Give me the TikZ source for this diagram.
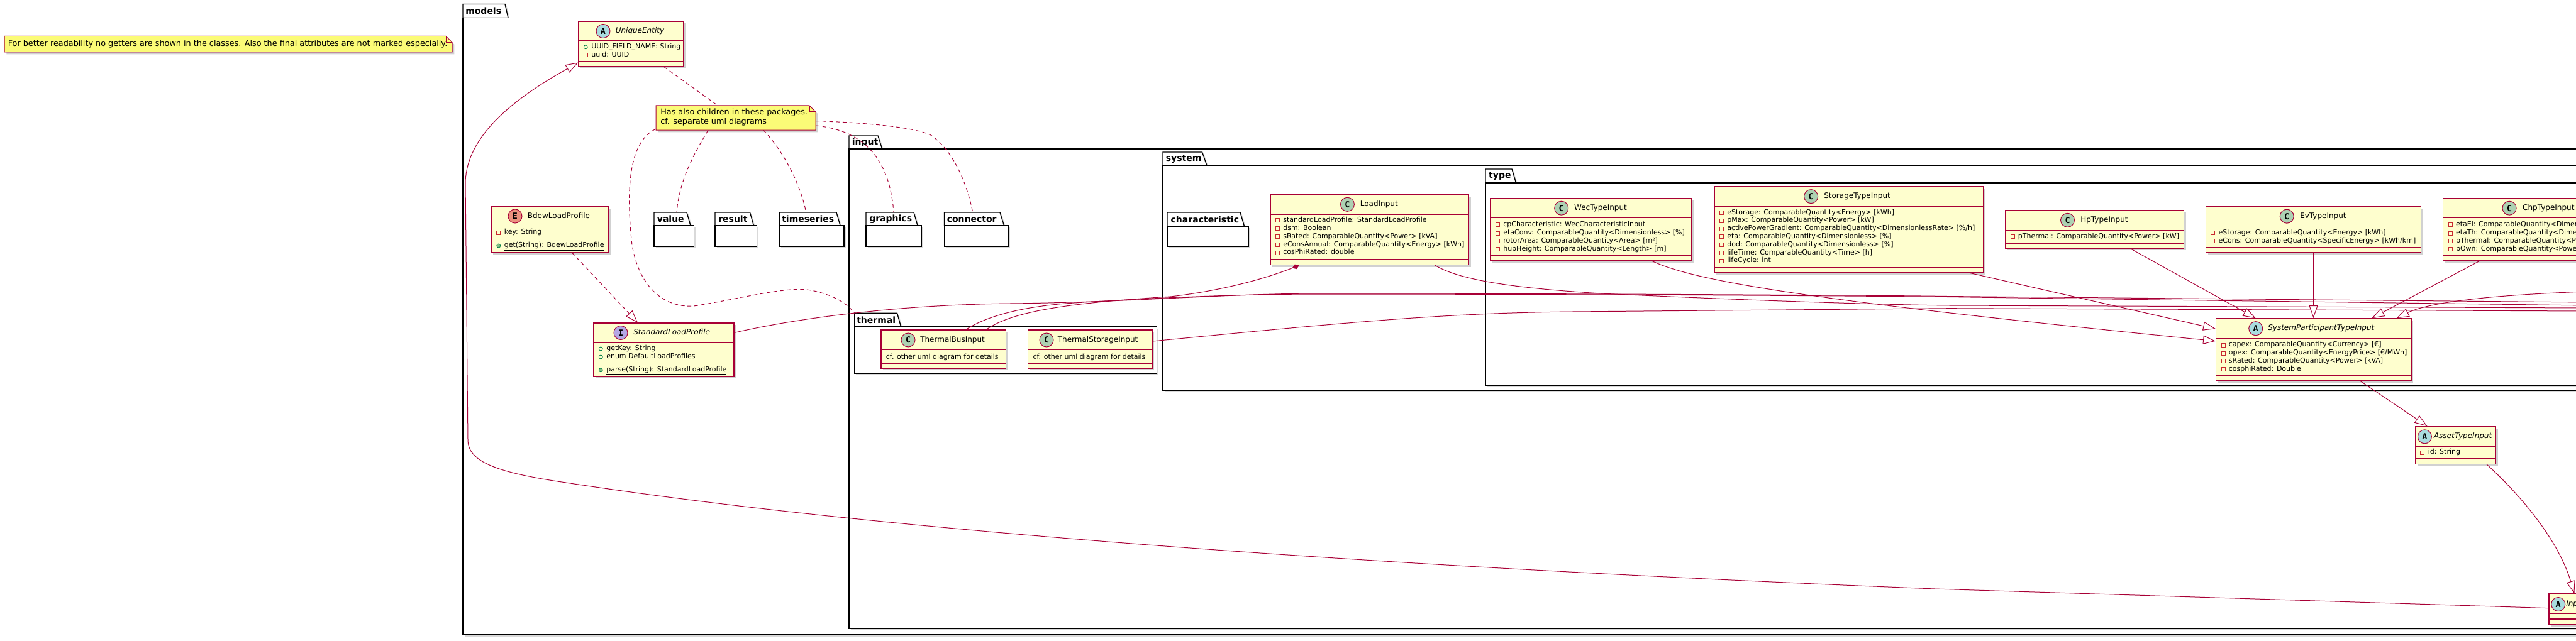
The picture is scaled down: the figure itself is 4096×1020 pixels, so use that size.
\documentclass[tikz,border=0pt]{standalone}
\usepackage{fontspec}
\setmainfont{DejaVu Sans}
\newfontfamily\iconfont{DejaVu Sans Mono}
\usetikzlibrary{arrows.meta, calc, fit, shadows}

\definecolor{umlred}{HTML}{A80036}
\definecolor{umlfill}{HTML}{FEFECE}
\definecolor{notefill}{HTML}{FBFB77}
\definecolor{iconc}{HTML}{ADD1B2}
\definecolor{icona}{HTML}{A9DCDF}
\definecolor{icone}{HTML}{EB937F}
\definecolor{iconi}{HTML}{B4A7E5}
\definecolor{privred}{HTML}{C82930}
\definecolor{pubgreen}{HTML}{038048}
\definecolor{pubfill}{HTML}{84BE84}

\tikzset{
  cls/.style={draw=umlred, fill=umlfill, line width=0.9pt, inner sep=0pt,
    drop shadow={shadow xshift=2.5pt, shadow yshift=-2.5pt, opacity=0.18, fill=black}},
  sep/.style={draw=umlred, line width=0.9pt},
  icon/.style={circle, draw=umlred, line width=0.75pt, minimum size=16.5pt, inner sep=0pt,
    font=\iconfont\bfseries\fontsize{10}{10}\selectfont},
  cname/.style={anchor=west, inner sep=0pt, text height=6.5pt, text depth=1.8pt, font=\fontsize{9}{11}\selectfont},
  aname/.style={cname, font=\itshape\fontsize{9}{11}\selectfont},
  attr/.style={anchor=west, inner sep=0pt, text height=6pt, text depth=1.8pt, font=\fontsize{8.25}{10}\selectfont},
  priv/.style={label={[draw=privred, line width=0.6pt, minimum size=4.5pt, inner sep=0pt,
    text height=0pt, text depth=0pt, label distance=4pt]left:{}}},
  pub/.style={label={[circle, draw=pubgreen, line width=0.6pt, minimum size=4.5pt, inner sep=0pt,
    text height=0pt, text depth=0pt, label distance=4pt]left:{}}},
  pubm/.style={label={[circle, draw=pubgreen, fill=pubfill, line width=0.6pt, minimum size=4.5pt, inner sep=0pt,
    text height=0pt, text depth=0pt, label distance=4pt]left:{}}},
  pkg/.style={draw=black, fill=white, line width=1pt,
    drop shadow={shadow xshift=2pt, shadow yshift=-2pt, opacity=0.15, fill=black}},
  pkglabel/.style={anchor=west, inner sep=0pt, font=\bfseries\fontsize{10.5}{12}\selectfont},
  notebox/.style={draw=umlred, fill=notefill, line width=0.75pt,
    drop shadow={shadow xshift=2.5pt, shadow yshift=-2.5pt, opacity=0.18, fill=black}},
  notetext/.style={anchor=west, inner sep=0pt, font=\fontsize{9.6}{12}\selectfont},
  area/.style={inner sep=0pt},
  link/.style={draw=umlred, line width=0.75pt},
  dashlink/.style={link, dash pattern=on 4.5pt off 3.5pt},
  inherit/.style={-{Triangle[length=15pt, width=10.5pt, fill=white]}},
  compose/.style={-{Diamond[length=9pt, width=6pt, fill=umlred]}}
}

\begin{document}
\begin{tikzpicture}[x=0.75pt, y=-0.75pt]
	\useasboundingbox (0,0) rectangle (4096,1020);
	\clip (0,0) rectangle (4096,1020);
	\fill[white] (0,0) rectangle (4096,1020);

	% packages
	\draw[pkg] (736,28.6) -- (736,6.5) -- (803,6.5) -- (808,28.6) -- cycle;
	\draw[pkg] (736,28.6) rectangle (4200,1010);
	\node[area, fit={(736,6.5) (803,28.6)}] (models) {};
	\node[pkglabel] (models-l) at (740,17.5) {models};

	\draw[pkg] (1040,359) -- (1040,338) -- (1092,338) -- (1098,359) -- cycle;
	\draw[pkg] (1040,359) rectangle (1103.4,392);
	\node[area, fit={(1040,338) (1092,359)}] (value) {};
	\node[pkglabel] (value-l) at (1044.6,348.5) {value};

	\draw[pkg] (1137,359) -- (1137,338) -- (1192.5,338) -- (1198.4,359) -- cycle;
	\draw[pkg] (1137,359) rectangle (1203.6,392);
	\node[area, fit={(1137,338) (1192.5,359)}] (result) {};
	\node[pkglabel] (result-l) at (1142,348.5) {result};

	\draw[pkg] (1239.4,359) -- (1239.4,338) -- (1330,338) -- (1336,359) -- cycle;
	\draw[pkg] (1239.4,359) rectangle (1342,392);
	\node[area, fit={(1239.4,338) (1330,359)}] (timeseries) {};
	\node[pkglabel] (timeseries-l) at (1243,348.5) {timeseries};

	\draw[pkg] (1350,237) -- (1350,216) -- (1396,216) -- (1402.7,237) -- cycle;
	\draw[pkg] (1350,237) rectangle (4200,1000.5);
	\node[area, fit={(1350,216) (1396,237)}] (input) {};
	\node[pkglabel] (input-l) at (1354.5,226.5) {input};

	\draw[pkg] (1377,359) -- (1377,338) -- (1453,338) -- (1459,359) -- cycle;
	\draw[pkg] (1377,359) rectangle (1465.8,392);
	\node[area, fit={(1377,338) (1453,359)}] (graphics) {};
	\node[pkglabel] (graphics-l) at (1382,348.5) {graphics};

	\draw[pkg] (1501.5,359) -- (1501.5,338) -- (1590,338) -- (1596.5,359) -- cycle;
	\draw[pkg] (1501.5,359) rectangle (1603,392);
	\node[area, fit={(1501.5,338) (1590,359)}] (connector) {};
	\node[pkglabel] (connector-l) at (1505.5,348.5) {connector};

	\draw[pkg] (1358.7,520) -- (1358.7,498.3) -- (1426.5,498.3) -- (1432.6,520) -- cycle;
	\draw[pkg] (1358.7,520) rectangle (1839.8,594);
	\node[area, fit={(1358.7,498.3) (1426.5,520)}] (thermal) {};
	\node[pkglabel] (thermal-l) at (1362,509) {thermal};

	\draw[pkg] (1849,263.5) -- (1849,242) -- (1911.5,242) -- (1919,263.5) -- cycle;
	\draw[pkg] (1849,263.5) rectangle (4200,621.3);
	\node[area, fit={(1849,242) (1911.5,263.5)}] (system) {};
	\node[pkglabel] (system-l) at (1853.5,252.7) {system};

	\draw[pkg] (1856,360) -- (1856,338) -- (1972,338) -- (1978.5,360) -- cycle;
	\draw[pkg] (1856,360) rectangle (1985,392);
	\node[area, fit={(1856,338) (1972,360)}] (characteristic) {};
	\node[pkglabel] (characteristic-l) at (1861.4,349) {characteristic};

	\draw[pkg] (2362,291) -- (2362,269) -- (2404,269) -- (2410.5,291) -- cycle;
	\draw[pkg] (2362,291) rectangle (4200,613.5);
	\node[area, fit={(2362,269) (2404,291)}] (type) {};
	\node[pkglabel] (type-l) at (2366.9,280) {type};

	% notes
	\draw[notebox] (7,57.5) -- (709,57.5) -- (719,67.5) -- (719,83) -- (7,83) -- cycle;
	\draw[umlred, line width=0.75pt] (709,57.5) -- (709,67.5) -- (719,67.5);
	\node[area, fit={(7,57.5) (719,83)}] (nt1) {};
	\node[notetext] (nt1-t) at (12.5,70.3) {For better readability no getters are shown in the classes. Also the final attributes are not marked especially.};

	\draw[notebox] (1043,168) -- (1287,168) -- (1297,178) -- (1297,207) -- (1043,207) -- cycle;
	\draw[umlred, line width=0.75pt] (1287,168) -- (1287,178) -- (1297,178);
	\node[area, fit={(1043,168) (1297,207)}] (nt2) {};
	\node[notetext] (nt2-t1) at (1050,179) {Has also children in these packages.};
	\node[notetext] (nt2-t2) at (1050,194) {cf. separate uml diagrams};

	% classes
	\node[cls, fit={(920,34) (1087,106)}] (ue) {};
	\draw[sep] (920,65) -- (1087,65);
	\draw[sep] (920,97.6) -- (1087,97.6);
	\node[icon, fill=icona] (ue-i) at (959,49.5) {A};
	\node[aname] (ue-n) at (978.5,49.5) {UniqueEntity};
	\node[attr, pub] (ue-a1) at (940,74.8) {\underline{UUID\_FIELD\_NAME: String}};
	\node[attr, priv] (ue-a2) at (940,87.8) {uuid: UUID};

	\node[cls, fit={(781,328.5) (968,401.4)}] (bdew) {};
	\draw[sep] (781,359.8) -- (968,359.8);
	\draw[sep] (781,380.6) -- (968,380.6);
	\node[icon, fill=icone] (bdew-i) at (819,344) {E};
	\node[cname] (bdew-n) at (838.6,344) {BdewLoadProfile};
	\node[attr, priv] (bdew-a1) at (801.5,370) {key: String};
	\node[attr, pubm] (bdew-m1) at (801.5,391) {\underline{get(String): BdewLoadProfile}};

	\node[cls, fit={(944,514) (1167,599)}] (slp) {};
	\draw[sep] (944,545) -- (1167,545);
	\draw[sep] (944,577.7) -- (1167,577.7);
	\node[icon, fill=iconi] (slp-i) at (987,529.5) {I};
	\node[aname] (slp-n) at (1007,529.5) {StandardLoadProfile};
	\node[attr, pub] (slp-a1) at (964,555) {getKey: String};
	\node[attr, pub] (slp-a2) at (964,568) {enum DefaultLoadProfiles};
	\node[attr, pubm] (slp-m1) at (964,588.8) {\underline{parse(String): StandardLoadProfile}};

	\node[cls, fit={(1401,525) (1599.5,586)}] (tbi) {};
	\draw[sep] (1401,556.7) -- (1599.5,556.7);
	\draw[sep] (1401,578.3) -- (1599.5,578.3);
	\node[icon, fill=iconc] (tbi-i) at (1444,541) {C};
	\node[cname] (tbi-n) at (1463,541) {ThermalBusInput};
	\node[attr] (tbi-a1) at (1408.6,568.3) {cf. other uml diagram for details};

	\node[cls, fit={(1634.7,525) (1832,586)}] (tsi) {};
	\draw[sep] (1634.7,556.7) -- (1832,556.7);
	\draw[sep] (1634.7,578.3) -- (1832,578.3);
	\node[icon, fill=iconc] (tsi-i) at (1664,541) {C};
	\node[cname] (tsi-n) at (1681.6,541) {ThermalStorageInput};
	\node[attr] (tsi-a1) at (1642.3,568.3) {cf. other uml diagram for details};

	\node[cls, fit={(2020,309.7) (2335.6,421.6)}] (load) {};
	\draw[sep] (2020,341) -- (2335.6,341);
	\draw[sep] (2020,412.5) -- (2335.6,412.5);
	\node[icon, fill=iconc] (load-i) at (2142.4,325.3) {C};
	\node[cname] (load-n) at (2162.6,325.3) {LoadInput};
	\node[attr, priv] (load-a1) at (2040,350.7) {standardLoadProfile: StandardLoadProfile};
	\node[attr, priv] (load-a2) at (2040,363.7) {dsm: Boolean};
	\node[attr, priv] (load-a3) at (2040,376.7) {sRated: ComparableQuantity<Power> [kVA]};
	\node[attr, priv] (load-a4) at (2040,389.7) {eConsAnnual: ComparableQuantity<Energy> [kWh]};
	\node[attr, priv] (load-a5) at (2040,402) {cosPhiRated: double};

	\node[cls, fit={(2370,315.5) (2690,414.4)}] (wec) {};
	\draw[sep] (2370,346.8) -- (2690,346.8);
	\draw[sep] (2370,406.6) -- (2690,406.6);
	\node[icon, fill=iconc] (wec-i) at (2482.7,331.2) {C};
	\node[cname] (wec-n) at (2502.8,331.2) {WecTypeInput};
	\node[attr, priv] (wec-a1) at (2390,357.8) {cpCharacteristic: WecCharacteristicInput};
	\node[attr, priv] (wec-a2) at (2390,370.9) {etaConv: ComparableQuantity<Dimensionless> [\%]};
	\node[attr, priv] (wec-a3) at (2390,383.2) {rotorArea: ComparableQuantity<Area> [m²]};
	\node[attr, priv] (wec-a4) at (2390,396.2) {hubHeight: ComparableQuantity<Length> [m]};

	\node[cls, fit={(2726,296.7) (3153.5,433.3)}] (stor) {};
	\draw[sep] (2726,328.6) -- (3153.5,328.6);
	\draw[sep] (2726,425.5) -- (3153.5,425.5);
	\node[icon, fill=iconc] (stor-i) at (2879.6,312.6) {C};
	\node[cname] (stor-n) at (2900,312.6) {StorageTypeInput};
	\node[attr, priv] (stor-a1) at (2746,338.3) {eStorage: ComparableQuantity<Energy> [kWh]};
	\node[attr, priv] (stor-a2) at (2746,351.1) {pMax: ComparableQuantity<Power> [kW]};
	\node[attr, priv] (stor-a3) at (2746,363.9) {activePowerGradient: ComparableQuantity<DimensionlessRate> [\%/h]};
	\node[attr, priv] (stor-a4) at (2746,376.7) {eta: ComparableQuantity<Dimensionless> [\%]};
	\node[attr, priv] (stor-a5) at (2746,389.5) {dod: ComparableQuantity<Dimensionless> [\%]};
	\node[attr, priv] (stor-a6) at (2746,402.3) {lifeTime: ComparableQuantity<Time> [h]};
	\node[attr, priv] (stor-a7) at (2746,415.1) {lifeCycle: int};

	\node[cls, fit={(3188.6,334.4) (3472.3,395)}] (hp) {};
	\draw[sep] (3188.6,366.3) -- (3472.3,366.3);
	\draw[sep] (3188.6,387) -- (3472.3,387);
	\node[icon, fill=iconc] (hp-i) at (3287.5,350.3) {C};
	\node[cname] (hp-n) at (3308,350.3) {HpTypeInput};
	\node[attr, priv] (hp-a1) at (3208.6,376.7) {pThermal: ComparableQuantity<Power> [kW]};

	\node[cls, fit={(3507.4,328.6) (3849.6,401.4)}] (ev) {};
	\draw[sep] (3507.4,359.8) -- (3849.6,359.8);
	\draw[sep] (3507.4,393.6) -- (3849.6,393.6);
	\node[icon, fill=iconc] (ev-i) at (3636.2,344.2) {C};
	\node[cname] (ev-n) at (3657,344.2) {EvTypeInput};
	\node[attr, priv] (ev-a1) at (3527.4,370.2) {eStorage: ComparableQuantity<Energy> [kWh]};
	\node[attr, priv] (ev-a2) at (3527.4,383.2) {eCons: ComparableQuantity<SpecificEnergy> [kWh/km]};

	\node[cls, fit={(3884.7,315.5) (4230,414.4)}] (chp) {};
	\draw[sep] (3884.7,346.8) -- (4230,346.8);
	\draw[sep] (3884.7,406.6) -- (4230,406.6);
	\node[icon, fill=iconc] (chp-i) at (3990,331.2) {C};
	\node[cname] (chp-n) at (4010.9,331.2) {ChpTypeInput};
	\node[attr, priv] (chp-a1) at (3904.7,357.8) {etaEl: ComparableQuantity<Dimensionless> [\%]};
	\node[attr, priv] (chp-a2) at (3904.7,370.9) {etaTh: ComparableQuantity<Dimensionless> [\%]};
	\node[attr, priv] (chp-a3) at (3904.7,383.2) {pThermal: ComparableQuantity<Power> [kW]};
	\node[attr, priv] (chp-a4) at (3904.7,396.2) {pOwn: ComparableQuantity<Power> [kW]};

	\node[cls, fit={(3523.6,506.8) (3834,605.7)}] (spti) {};
	\draw[sep] (3523.6,538.7) -- (3834,538.7);
	\draw[sep] (3523.6,597.3) -- (3834,597.3);
	\node[icon, fill=icona] (spti-i) at (3586.7,522.7) {A};
	\node[aname] (spti-n) at (3606,522.7) {SystemParticipantTypeInput};
	\node[attr, priv] (spti-a1) at (3543.6,549) {capex: ComparableQuantity<Currency> [€]};
	\node[attr, priv] (spti-a2) at (3543.6,562) {opex: ComparableQuantity<EnergyPrice> [€/MWh]};
	\node[attr, priv] (spti-a3) at (3543.6,574.5) {sRated: ComparableQuantity<Power> [kVA]};
	\node[attr, priv] (spti-a4) at (3543.6,587.5) {cosphiRated: Double};

	\node[cls, fit={(3840.5,678.6) (3968.6,738.4)}] (asset) {};
	\draw[sep] (3840.5,711) -- (3968.6,711);
	\draw[sep] (3840.5,730) -- (3968.6,730);
	\node[icon, fill=icona] (asset-i) at (3855.4,694.8) {A};
	\node[aname] (asset-n) at (3869.7,694.8) {AssetTypeInput};
	\node[attr, priv] (asset-a1) at (3860.5,720) {id: String};

	\node[cls, fit={(4053,945) (4170,993.3)}] (ie) {};
	\draw[sep] (4053,976.7) -- (4170,976.7);
	\draw[sep] (4053,985) -- (4170,985);
	\node[icon, fill=icona] (ie-i) at (4067.7,961.5) {A};
	\node[aname] (ie-n) at (4080,961.5) {InputEntity};

	% free ends at the cut right border
	\coordinate (e1) at (4110,481);
	\coordinate (e2) at (4110,486);
	\coordinate (e3) at (4110,490);
	\coordinate (e4) at (4110,495);
	\coordinate (e5) at (4110,464);

	% connectors
	\draw[link, inherit] ($(ie.west)+(0,-1.5)$) -- (3076,937) .. controls (2400,910) and (1500,860) .. (900,768)
		.. controls (790,752) and (744,735) .. (744,700) -- (740,290)
		.. controls (742,210) and (830,150) .. ($(ue.south west)+(0,-7)$);
	\draw[dashlink, inherit] ($(bdew.south)+(35,0)$) -- ($(slp.north)+(-41.5,0)$);
	\draw[dashlink] ($(ue.south)+(52.5,0)$) -- ($(nt2.north)+(-29,0)$);
	\draw[dashlink] ($(nt2.south)+(-44,0)$) .. controls (1100,250) and (1080,290) .. ($(value.north)+(10,0)$);
	\draw[dashlink] (nt2.south) -- (nt2.south |- result.north);
	\draw[dashlink] ($(nt2.south)+(44,0)$) .. controls (1245,240) and (1272,290) .. ($(timeseries.north)+(-3,0)$);
	\draw[dashlink] ($(nt2.east)+(0,12.5)$) .. controls (1380,208) and (1415,260) .. ($(graphics.north)+(6,0)$);
	\draw[dashlink] ($(nt2.east)+(0,5)$) .. controls (1400,196) and (1460,205) .. (1480,215)
		.. controls (1510,235) and (1535,280) .. ($(connector.north)+(1,0)$);
	\draw[dashlink] ($(nt2.south west)+(0,-2)$) .. controls (1000,225) and (995,300) .. (1005,390)
		.. controls (1015,450) and (1050,490) .. (1103,487) .. controls (1180,475) and (1250,455) .. (1290,462)
		.. controls (1320,468) and (1345,480) .. (thermal.north west);

	\draw[link] ($(slp.north east)+(0,16)$) .. controls (1260,508) and (1420,485) .. (1606,483)
		.. controls (1800,481) and (1950,467) .. (2100,467) .. controls (2500,467) and (3000,470) .. (3096,471.5) -- (e1);
	\draw[link] ($(tbi.north)+(35.7,0)$) .. controls (1570,502) and (1630,487) .. (1708,482)
		.. controls (1800,476) and (1950,468) .. (2100,468) .. controls (2500,468) and (3000,471) .. (3096,472.5) -- (e2);
	\draw[link, compose] ($(tbi.north)+(68,0)$) .. controls (1610,495) and (1700,482) .. (1861,472)
		.. controls (1930,464) and (2000,448) .. ($(load.south)+(-112,0)$);
	\draw[link] ($(load.south)+(104,0)$) .. controls (2320,445) and (2400,458) .. (2546,467)
		.. controls (2800,479) and (3000,485) .. (3100,486) -- (e3);
	\draw[link] ($(tsi.east)+(0,-12.5)$) .. controls (2150,512) and (2300,498) .. (2500,496) -- (3100,490.7) -- (e4);

	\draw[link, inherit] ($(wec.south)+(96,0)$) .. controls (2700,450) and (2900,480) .. ($(spti.west)+(0,-13.5)$);
	\draw[link, inherit] ($(stor.south)+(190,0)$) -- ($(spti.north west)+(0,17)$);
	\draw[link, inherit] ($(hp.south)+(57,0)$) -- ($(spti.north west)+(63.5,0)$);
	\draw[link, inherit] (ev.south) -- (ev.south |- spti.north);
	\draw[link, inherit] ($(chp.south west)+(59,0)$) -- ($(spti.north west)+(248.4,0)$);
	\draw[link, inherit] (e5) .. controls (3950,470) and (3860,482) .. ($(spti.north east)+(-24,0)$);
	\draw[link, inherit] ($(spti.south)+(74,0)$) -- ($(asset.north west)+(19.5,0)$);
	\draw[link, inherit] ($(asset.south)+(49.5,0)$) .. controls (4010,790) and (4068,860) .. ($(ie.north west)+(41,0)$);
\end{tikzpicture}
\end{document}
